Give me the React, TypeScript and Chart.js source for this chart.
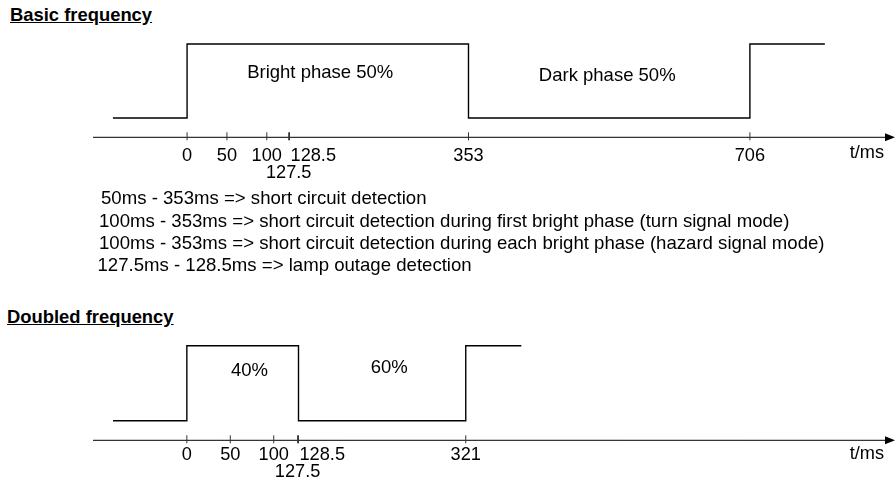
import React, { useEffect, useRef } from "react";
import { Chart, registerables } from "chart.js";

Chart.register(...registerables);

const FONT = '"Liberation Sans", Arial, Helvetica, sans-serif';

// ---- Basic frequency (times in ms, levels 0 = dark, 1 = bright) ----
const basicEdgeTimes = [-93, 0, 353, 706, 800];
const basicLevels = [0, 1, 0, 1, 1];
const basicTicks = [0, 50, 100, 127.5, 128.5, 353, 706];
const basicTickLabels = ["0", "50", "100", "127.5", "128.5", "353", "706"];
const basicAxisRange = [-118, 888];
const basicPhaseLabels = ["Bright phase 50%", "Dark phase 50%"];
const basicPhaseTimes = [167, 527];
const basicPhaseLevels = [0.61, 0.57];

// ---- Doubled frequency ----
const doubledEdgeTimes = [-85, 0, 128.5, 321, 385];
const doubledLevels = [0, 1, 0, 1, 1];
const doubledTicks = [0, 50, 100, 127.5, 128.5, 321];
const doubledTickLabels = ["0", "50", "100", "127.5", "128.5", "321"];
const doubledAxisRange = [-108, 815];
const doubledPhaseLabels = ["40%", "60%"];
const doubledPhaseTimes = [72, 233];
const doubledPhaseLevels = [0.67, 0.7];

const axisUnit = "t/ms";

const notes = [
  "50ms - 353ms => short circuit detection",
  "100ms - 353ms => short circuit detection during first bright phase (turn signal mode)",
  "100ms - 353ms => short circuit detection during each bright phase (hazard signal mode)",
  "127.5ms - 128.5ms => lamp outage detection",
];

const titles = ["Basic frequency", "Doubled frequency"];

type PanelProps = {
  top: number;
  height: number;
  padTop: number;
  padBottom: number;
  edgeTimes: number[];
  levels: number[];
  ticks: number[];
  tickLabels: string[];
  range: number[];
  phaseLabels: string[];
  phaseTimes: number[];
  phaseLevels: number[];
  row1: number;
  row2: number;
  unitDy: number;
};

const SECOND_ROW = new Set(["127.5"]);
const LEFT_ALIGNED = new Set(["128.5"]);

function Panel(p: PanelProps) {
  const ref = useRef<HTMLCanvasElement | null>(null);
  useEffect(() => {
    if (!ref.current) return;
    const plugin = {
      id: "timingAxis",
      afterDatasetsDraw(chart: any) {
        const ctx = chart.ctx as CanvasRenderingContext2D;
        const xs = chart.scales.x;
        const axisY = chart.chartArea.bottom;
        const x0 = xs.getPixelForValue(p.range[0]);
        const x1 = xs.getPixelForValue(p.range[1]);
        ctx.save();
        // axis line + arrow
        ctx.strokeStyle = "#000";
        ctx.lineWidth = 1;
        ctx.beginPath();
        ctx.moveTo(x0, axisY);
        ctx.lineTo(x1 - 8, axisY);
        ctx.stroke();
        ctx.fillStyle = "#000";
        ctx.beginPath();
        ctx.moveTo(x1, axisY);
        ctx.lineTo(x1 - 10, axisY - 4);
        ctx.lineTo(x1 - 10, axisY + 4);
        ctx.closePath();
        ctx.fill();
        // tick marks
        ctx.strokeStyle = "#333";
        p.ticks.forEach((v) => {
          const px = xs.getPixelForValue(v);
          ctx.beginPath();
          ctx.moveTo(px, axisY - 5);
          ctx.lineTo(px, axisY + 3);
          ctx.stroke();
        });
        // tick labels
        ctx.font = `18.2px ${FONT}`;
        ctx.textBaseline = "middle";
        ctx.fillStyle = "#000";
        p.ticks.forEach((v, i) => {
          const lab = p.tickLabels[i];
          const px = xs.getPixelForValue(v);
          if (SECOND_ROW.has(lab)) {
            ctx.textAlign = "center";
            ctx.fillText(lab, px, axisY + p.row2);
          } else if (LEFT_ALIGNED.has(lab)) {
            ctx.textAlign = "left";
            ctx.fillText(lab, px + 1, axisY + p.row1);
          } else {
            ctx.textAlign = "center";
            ctx.fillText(lab, px, axisY + p.row1);
          }
        });
        ctx.textAlign = "right";
        ctx.fillText(axisUnit, x1 - 11, axisY + p.unitDy);
        // phase labels
        const ys = chart.scales.y;
        ctx.font = `18.5px ${FONT}`;
        ctx.textAlign = "center";
        p.phaseLabels.forEach((lab, i) => {
          ctx.fillText(lab, xs.getPixelForValue(p.phaseTimes[i]), ys.getPixelForValue(p.phaseLevels[i]));
        });
        ctx.restore();
      },
    };
    const chart = new Chart(ref.current, {
      type: "line",
      data: {
        datasets: [
          {
            data: p.edgeTimes.map((t, i) => ({ x: t, y: p.levels[i] })),
            stepped: true,
            borderColor: "#000",
            borderWidth: 1.4,
            pointRadius: 0,
            fill: false,
          },
        ],
      },
      options: {
        animation: false,
        responsive: false,
        maintainAspectRatio: false,
        events: [],
        layout: { padding: { left: 93, right: 0, top: p.padTop, bottom: p.padBottom } },
        scales: {
          x: { type: "linear", min: p.range[0], max: p.range[1], display: false },
          y: { type: "linear", min: -0.26, max: 1.2, display: false },
        },
        plugins: { legend: { display: false }, tooltip: { enabled: false }, title: { display: false } },
      },
      plugins: [plugin],
    });
    return () => chart.destroy();
  }, []);
  return (
    <canvas
      ref={ref}
      width={895}
      height={p.height}
      style={{ position: "fixed", left: 0, top: p.top, width: 895, height: p.height, display: "block" }}
    />
  );
}

const textBase: React.CSSProperties = {
  position: "fixed",
  fontFamily: FONT,
  fontSize: "18.4px",
  lineHeight: "22px",
  whiteSpace: "nowrap",
  color: "#000",
  margin: 0,
};

export default function App() {
  const noteTops = [187.4, 210.1, 231.9, 254.1];
  const noteLefts = [101, 99, 99, 97.5];
  return (
    <div style={{ position: "fixed", left: 0, top: 0, width: 895, height: 485, background: "#fff" }}>
      <div style={{ ...textBase, left: 10, top: 4, fontWeight: "bold", textDecoration: "underline" }}>{titles[0]}</div>
      <Panel
        top={0}
        height={195}
        padTop={29.26}
        padBottom={57.7}
        edgeTimes={basicEdgeTimes}
        levels={basicLevels}
        ticks={basicTicks}
        tickLabels={basicTickLabels}
        range={basicAxisRange}
        phaseLabels={basicPhaseLabels}
        phaseTimes={basicPhaseTimes}
        phaseLevels={basicPhaseLevels}
        row1={18.3}
        row2={36}
        unitDy={16}
      />
      {notes.map((n, i) => (
        <div key={i} style={{ ...textBase, fontSize: "18.6px", left: noteLefts[i], top: noteTops[i] }}>{n}</div>
      ))}
      <div style={{ ...textBase, left: 7, top: 306, fontWeight: "bold", textDecoration: "underline" }}>{titles[1]}</div>
      <Panel
        top={300}
        height={185}
        padTop={30.8}
        padBottom={44.7}
        edgeTimes={doubledEdgeTimes}
        levels={doubledLevels}
        ticks={doubledTicks}
        tickLabels={doubledTickLabels}
        range={doubledAxisRange}
        phaseLabels={doubledPhaseLabels}
        phaseTimes={doubledPhaseTimes}
        phaseLevels={doubledPhaseLevels}
        row1={15}
        row2={31.7}
        unitDy={14}
      />
    </div>
  );
}
